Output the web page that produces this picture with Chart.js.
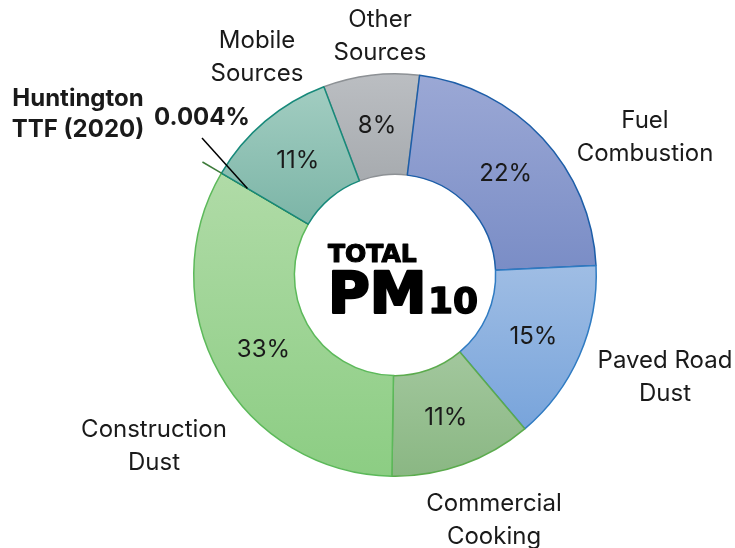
<!DOCTYPE html>
<html>
<head>
<meta charset="utf-8">
<script src="https://cdn.jsdelivr.net/npm/chart.js@4"></script>
<style>
  html, body { margin: 0; padding: 0; background: #ffffff; }
  canvas { display: block; }
</style>
</head>
<body>
<canvas id="pm10-chart" width="735" height="548"></canvas>
<script>
// Data (shares of total PM10, %)
const categories = ['Other Sources', 'Fuel Combustion', 'Paved Road Dust', 'Commercial Cooking',
    'Construction Dust', 'Huntington TTF (2020)', 'Mobile Sources'];
const shares = [7.7, 22.3, 14.6, 11.4, 33.2, 0.004, 10.8];
const outerLabels = [['Other', 'Sources'], ['Fuel', 'Combustion'], ['Paved Road', 'Dust'],
    ['Commercial', 'Cooking'], ['Construction', 'Dust'], ['Huntington', 'TTF (2020)'], ['Mobile', 'Sources']];
const smallShareText = '0.004%';
const centerText = ['TOTAL', 'PM', '10'];

// Styles
const topColors = ['#bbbec2', '#9ba8d5', '#9fbde4', '#a2c79d', '#b0dba7', '#2e7d32', '#a2cdc1'];
const bottomColors = ['#a7abaf', '#7a8dc6', '#78a4db', '#8ab783', '#8ccd83', '#2e7d32', '#7cb5a7'];
const borderColors = ['#8d9195', '#1d5ea8', '#2f7bc2', '#5bab4d', '#5cb95a', '#3d7b3a', '#17897a'];
const ROTATION = -20.7;
const FONT = 'Inter, "Open Sans", sans-serif';

// label anchors: x centre, first baseline
const labelPos = [[380, 27], [645, 128], [665, 368], [494, 511], [154, 437], [78, 106], [257, 48]];

function segmentGradient(context) {
    const chart = context.chart;
    const area = chart.chartArea;
    const i = context.dataIndex;
    if (!area) return bottomColors[i];
    const total = shares.reduce((a, b) => a + b, 0);
    let before = 0;
    for (let j = 0; j < i; j++) before += shares[j];
    const a0 = ROTATION * Math.PI / 180 - Math.PI / 2 + before / total * Math.PI * 2;
    const a1 = a0 + shares[i] / total * Math.PI * 2;
    const cy = (area.top + area.bottom) / 2;
    const R = Math.min(area.width, area.height) / 2;
    let minY = Infinity, maxY = -Infinity;
    for (let t = 0; t <= 24; t++) {
        const a = a0 + (a1 - a0) * t / 24;
        [R, R * 0.5].forEach(r => {
            const y = cy + Math.sin(a) * r;
            minY = Math.min(minY, y);
            maxY = Math.max(maxY, y);
        });
    }
    if (maxY - minY < 1) maxY = minY + 1;
    const g = chart.ctx.createLinearGradient(0, minY, 0, maxY);
    g.addColorStop(0, topColors[i]);
    g.addColorStop(1, bottomColors[i]);
    return g;
}

const labelPlugin = {
    id: 'pmLabels',
    afterDatasetsDraw(chart) {
        const ctx = chart.ctx;
        const meta = chart.getDatasetMeta(0);
        ctx.save();

        // value labels inside the ring
        ctx.fillStyle = '#1a1a1a';
        ctx.font = '24px ' + FONT;
        ctx.textAlign = 'center';
        ctx.textBaseline = 'middle';
        meta.data.forEach((arc, i) => {
            if (shares[i] < 1) return;
            const p = arc.getCenterPoint();
            ctx.fillText(Math.round(shares[i]) + '%', p.x, p.y + 1);
        });

        // outer category labels
        ctx.textBaseline = 'alphabetic';
        outerLabels.forEach((lines, i) => {
            const bold = shares[i] < 1;
            ctx.font = (bold ? 'bold 24px ' : '24px ') + FONT;
            const gap = bold ? 31 : 33;
            lines.forEach((txt, k) => {
                ctx.fillText(txt, labelPos[i][0], labelPos[i][1] + k * gap);
            });
        });

        // tiny slice: value text and leader lines
        const hIdx = shares.findIndex(v => v < 1);
        const h = meta.data[hIdx];
        const a = h.startAngle;
        ctx.font = 'bold 24px ' + FONT;
        ctx.fillText(smallShareText, 202, 125);
        const rIn = h.innerRadius + (h.outerRadius - h.innerRadius) * 0.7;
        ctx.strokeStyle = '#000000';
        ctx.lineWidth = 1.5;
        ctx.beginPath();
        ctx.moveTo(202, 138);
        ctx.lineTo(h.x + Math.cos(a) * rIn, h.y + Math.sin(a) * rIn);
        ctx.stroke();
        ctx.strokeStyle = borderColors[hIdx];
        ctx.beginPath();
        ctx.moveTo(h.x + Math.cos(a) * h.outerRadius, h.y + Math.sin(a) * h.outerRadius);
        ctx.lineTo(h.x + Math.cos(a) * (h.outerRadius + 22), h.y + Math.sin(a) * (h.outerRadius + 22));
        ctx.stroke();

        // centre title
        const cx = h.x, cy = h.y;
        ctx.fillStyle = '#000000';
        ctx.strokeStyle = '#000000';
        ctx.textAlign = 'left';
        ctx.lineJoin = 'round';
        ctx.font = 'bold 25px "DejaVu Sans", sans-serif';
        ctx.lineWidth = 1.2;
        ctx.fillText(centerText[0], cx - 67, cy - 13);
        ctx.strokeText(centerText[0], cx - 67, cy - 13);
        ctx.font = 'bold 57px "DejaVu Sans", sans-serif';
        ctx.lineWidth = 2.5;
        ctx.fillText(centerText[1], cx - 67, cy + 38);
        ctx.strokeText(centerText[1], cx - 67, cy + 38);
        ctx.font = 'bold 36px "DejaVu Sans", sans-serif';
        ctx.lineWidth = 1.5;
        ctx.fillText(centerText[2], cx + 33, cy + 38);
        ctx.strokeText(centerText[2], cx + 33, cy + 38);
        ctx.restore();
    }
};

const pmChart = new Chart(document.getElementById('pm10-chart'), {
    type: 'doughnut',
    data: {
        labels: categories,
        datasets: [{
            data: shares,
            backgroundColor: segmentGradient,
            borderColor: borderColors,
            borderWidth: 1.5,
        }],
    },
    options: {
        responsive: false,
        animation: false,
        rotation: ROTATION,
        cutout: '50%',
        layout: { padding: { left: 193, top: 73, right: 138, bottom: 71 } },
        plugins: {
            legend: { display: false },
            tooltip: { enabled: false },
        },
    },
    plugins: [labelPlugin],
});
</script>
</body>
</html>
